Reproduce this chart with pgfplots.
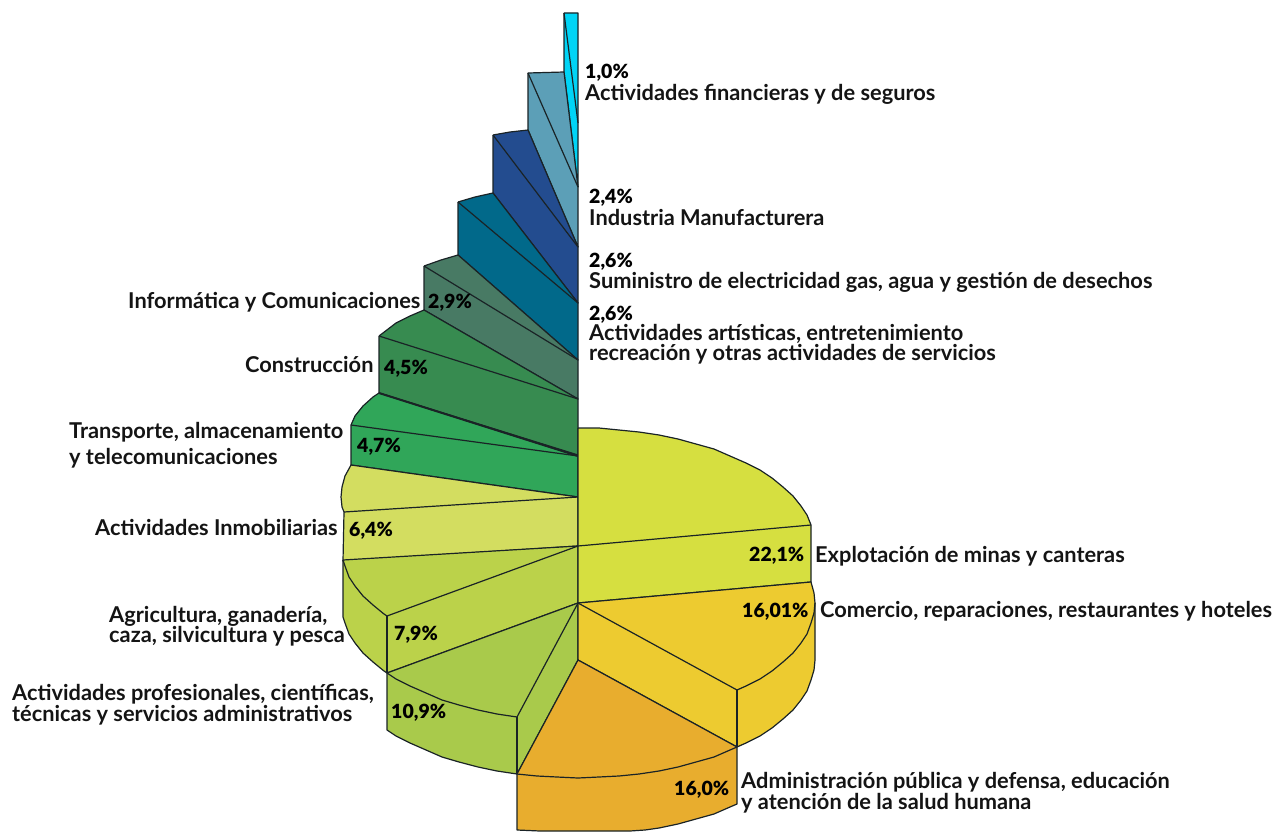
\documentclass[border=0pt]{standalone}
\usepackage{fontspec}
\usepackage{pgfplots}
\pgfplotsset{compat=1.18}
\setmainfont{Lato}
\newfontfamily\pcfont{Lato Black}
\definecolor{edge}{HTML}{1A2326}
\definecolor{c01}{HTML}{00D4F6}
\definecolor{c02}{HTML}{5C9FB7}
\definecolor{c03}{HTML}{234C8F}
\definecolor{c04}{HTML}{01698A}
\definecolor{c05}{HTML}{487A64}
\definecolor{c06}{HTML}{378B50}
\definecolor{c07}{HTML}{30A659}
\definecolor{c08}{HTML}{D3DD60}
\definecolor{c09}{HTML}{BBD24A}
\definecolor{c10}{HTML}{A9CA4B}
\definecolor{c11}{HTML}{E8AD2E}
\definecolor{c12}{HTML}{EDCB30}
\definecolor{c13}{HTML}{D6DF40}
\newcommand{\nm}[3]{\node[anchor=base west,inner sep=0pt,text=black!92] at (axis cs:#1,#2) {\fontsize{21.8}{22}\selectfont\bfseries #3};}
\newcommand{\pc}[3]{\node[anchor=base west,inner sep=0pt] at (axis cs:#1,#2) {\fontsize{19.5}{20}\selectfont\pcfont #3};}
\begin{document}
\begin{tikzpicture}
\begin{axis}[
  width=1284pt, height=832pt, scale only axis,
  xmin=0, xmax=1284, ymin=0, ymax=832, y dir=reverse,
  hide axis, no markers,
  every axis plot/.append style={edge, line width=1.2pt, line join=round},
]
% keeps the whole frame in the page
\addplot[draw=none] coordinates {(0,0)(1284,832)};
% stair steps, top to bottom
\addplot[fill=c01] coordinates {(564,13)(578,13)(578,187)(564,72)(564,13)};
\addplot[edge] coordinates {(564,13)(578,123)};
\addplot[fill=c02] coordinates {(528,73)(564,72)(578,187)(578,247)(528,130)(528,73)};
\addplot[edge] coordinates {(528,73)(578,187)};
\addplot[fill=c03] coordinates {(493,135)(510,132)(528,130)(578,247)(578,303)(493,193)(493,135)};
\addplot[edge] coordinates {(493,135)(578,247)};
\addplot[fill=c04] coordinates {(458,202)(475,197)(493,193)(578,303)(578,360)(458,255)(458,202)};
\addplot[edge] coordinates {(458,202)(578,303)};
\addplot[fill=c05] coordinates {(424,266)(441,260)(458,255)(578,360)(578,399)(424,310)(424,266)};
\addplot[edge] coordinates {(424,266)(578,360)};
\addplot[fill=c06] coordinates {(379,336)(396,323)(410,316)(424,310)(578,399)(578,455)(379,393)(379,336)};
\addplot[edge] coordinates {(379,336)(578,399)};
\addplot[fill=c07] coordinates {(351,425)(355,416)(363,406)(373,397)(379,393)(578,456)(578,497)(351,465)(351,425)};
\addplot[edge] coordinates {(351,425)(578,456)};
\addplot[edge,line width=2pt] coordinates {(379,393)(578,456)};
\addplot[fill=c08] coordinates {(344,512)(342,507)(341,497)(342,487)(345,476)(351,465)(578,497)(578,546)(343,561)(344,512)};
\addplot[edge] coordinates {(344,512)(578,497)};
% lime slice
\addplot[fill=c09] coordinates {(343,560)(578,546)(578,603)(387,673)(384,671)(373,662)(363,653)(355,643)(349,634)(345,623)(343,617)(343,560)};
\addplot[edge] coordinates {(343,560)(345,566)(349,577)(355,586)(363,596)(373,605)(384,614)(387,616)(578,546)};
\addplot[edge] coordinates {(387,616)(387,673)};
% green slice
\addplot[fill=c10] coordinates {(387,673)(578,603)(578,660)(517,774)(497,771)(478,767)(459,762)(442,757)(426,750)(410,743)(396,736)(387,730)(387,673)};
\addplot[edge] coordinates {(387,673)(396,679)(410,686)(426,693)(442,700)(459,705)(478,710)(497,714)(517,717)(578,603)};
\addplot[edge] coordinates {(517,717)(517,774)};
% biggest slice
\addplot[fill=c13] coordinates {(578,428)(599,428)(619,430)(639,432)(659,435)(678,439)(696,444)(714,449)(730,456)(746,463)(760,470)(772,478)(783,487)(793,496)(801,506)(807,515)(811,525)(811,582)(578,603)(578,428)};
\addplot[edge] coordinates {(578,546)(811,525)};
% yellow slice
\addplot[fill=c12] coordinates {(578,603)(811,582)(814,593)(815,603)(815,660)(814,670)(811,680)(807,691)(801,700)(793,710)(783,719)(772,728)(760,736)(746,743)(737,747)(578,660)(578,603)};
\addplot[edge] coordinates {(815,603)(814,613)(811,623)(807,634)(801,643)(793,653)(783,662)(772,671)(760,679)(746,686)(737,690)(578,603)};
\addplot[edge] coordinates {(737,690)(737,747)};
% orange slice
\addplot[fill=c11] coordinates {(517,774)(578,660)(737,747)(737,804)(730,807)(714,814)(696,819)(678,824)(659,828)(645,830)(630,831)(540,831)(517,830)(517,774)};
\addplot[edge] coordinates {(517,774)(537,776)(557,777)(578,778)(599,777)(619,776)(639,774)(659,771)(678,767)(696,762)(714,757)(730,750)(737,747)};
% labels
\pc{585}{79}{1,0\%}
\nm{585}{101}{Actividades financieras y de seguros}
\pc{589}{203}{2,4\%}
\nm{589}{225}{Industria Manufacturera}
\pc{589}{267}{2,6\%}
\nm{589}{288}{Suministro de electricidad gas, agua y gestión de desechos}
\pc{589}{320}{2,6\%}
\nm{589}{340}{Actividades artísticas, entretenimiento}
\nm{589}{360}{recreación y otras actividades de servicios}
\nm{128}{308}{Informática y Comunicaciones}
\pc{428}{308}{2,9\%}
\nm{245}{372}{Construcción}
\pc{384}{374}{4,5\%}
\nm{69}{438}{Transporte, almacenamiento}
\nm{69}{464}{y telecomunicaciones}
\pc{357}{452}{4,7\%}
\nm{95}{535}{Actividades Inmobiliarias}
\pc{349}{536}{6,4\%}
\nm{109}{622}{Agricultura, ganadería,}
\nm{109}{642}{caza, silvicultura y pesca}
\pc{394}{640}{7,9\%}
\nm{12}{700}{Actividades profesionales, científicas,}
\nm{12}{721}{técnicas y servicios administrativos}
\pc{391}{718}{10,9\%}
\pc{749}{561}{22,1\%}
\nm{815}{562}{Explotación de minas y canteras}
\pc{742}{617}{16,01\%}
\nm{820}{617}{Comercio, reparaciones, restaurantes y hoteles}
\pc{674}{795}{16,0\%}
\nm{741}{788}{Administración pública y defensa, educación}
\nm{741}{809}{y atención de la salud humana}
\end{axis}
\end{tikzpicture}
\end{document}
